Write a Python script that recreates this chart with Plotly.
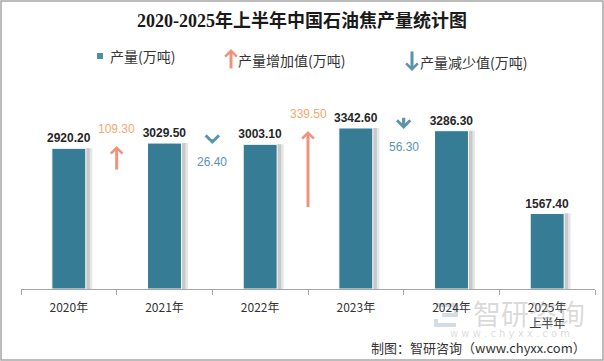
import plotly.graph_objects as go

# ---------------- data ----------------
categories = ["2020年", "2021年", "2022年", "2023年", "2024年", "2025年<br>上半年"]
production = [2920.20, 3029.50, 3003.10, 3342.60, 3286.30, 1567.40]
# change between consecutive categories (index i -> i+1)
increase = [109.30, None, 339.50, None, None]
decrease = [None, 26.40, None, 56.30, None]

title_text = "2020-2025年上半年中国石油焦产量统计图"
legend_labels = ["产量(万吨)", "产量增加值(万吨)", "产量减少值(万吨)"]
source_text = "制图：智研咨询（www.chyxx.com）"

# ---------------- style ----------------
W, H = 604, 361
BAR = "#367C95"
UP = "#F0917A"
UP_TXT = "#F4A76E"
DOWN = "#5B93AD"
TXT = "#262626"
FONT = "Noto Sans CJK SC"
NUM_FONT = "Liberation Sans"
ARROW_PX_PER_UNIT = 0.228
BW = 0.355

x0_px, x1_px = 21, 595
base_px = 289
y_max = 4000
px_per_unit = 0.04817
top_px = base_px - y_max * px_per_unit

fig = go.Figure()

# shadows
xs = list(range(len(categories)))
for off, col in [(6.5, "#e6e6e6"), (4.0, "#c9c9c9")]:
    fig.add_trace(go.Bar(
        x=xs, y=production, width=BW,
        offset=-BW / 2 + off / ((x1_px - x0_px) / len(categories)),
        marker=dict(color=col, line=dict(width=0)),
        hoverinfo="skip", showlegend=False))

fig.add_trace(go.Bar(
    x=xs, y=production, width=BW, offset=-BW / 2,
    marker=dict(color=BAR, line=dict(color="white", width=1)),
    text=[f"{v:.2f}" for v in production],
    textposition="outside", constraintext="none",
    textfont=dict(family=NUM_FONT, size=12, color=TXT, weight="bold"),
    cliponaxis=False, showlegend=False))

annotations = []
# increase arrows
for i, v in enumerate(increase):
    if v is None:
        continue
    top = max(production[i], production[i + 1])
    annotations.append(dict(
        x=i + 0.5, y=top, xref="x", yref="y", yshift=-3,
        ax=0, ay=v * ARROW_PX_PER_UNIT, axref="pixel", ayref="pixel",
        showarrow=True, arrowhead=4, arrowsize=0.75, arrowwidth=3,
        arrowcolor=UP, text=""))
    annotations.append(dict(
        x=i + 0.5, y=top, xref="x", yref="y", yshift=14,
        xanchor="center", yanchor="middle",
        text=f"{v:.2f}", showarrow=False,
        font=dict(family=NUM_FONT, size=12, color=UP_TXT)))
# decrease arrows
for i, v in enumerate(decrease):
    if v is None:
        continue
    top = max(production[i], production[i + 1])
    annotations.append(dict(
        x=i + 0.5, y=top, xref="x", yref="y", yshift=-1,
        ax=0, ay=-v * ARROW_PX_PER_UNIT, axref="pixel", ayref="pixel",
        showarrow=True, arrowhead=4, arrowsize=0.8, arrowwidth=3.2,
        arrowcolor=DOWN, text=""))
    annotations.append(dict(
        x=i + 0.5, y=top, xref="x", yref="y", yshift=-19,
        xanchor="center", yanchor="middle",
        text=f"{v:.2f}", showarrow=False,
        font=dict(family=NUM_FONT, size=12, color=DOWN)))

def px(x):
    return x / W

def py(y):
    return 1 - y / H

def ptext(x, y, text, font, xanchor="center"):
    return dict(x=px(x), y=py(y), xref="paper", yref="paper",
                xanchor=xanchor, yanchor="middle",
                text=text, showarrow=False, font=font)

# watermark (semi-transparent so axis labels show through)
annotations.append(ptext(529, 313, "智研咨询", dict(family=FONT, size=28, color="rgba(150,150,150,0.35)")))
annotations.append(ptext(510, 333, "w w w . c h y x x . c o m",
                         dict(family="DejaVu Sans", size=10, color="rgba(150,150,150,0.35)")))
# title
annotations.append(ptext(302, 20, f"<b>{title_text}</b>",
                         dict(family="Liberation Serif, " + FONT, size=18, color="#1a1a1a")))
# legend
leg_font = dict(family=FONT, size=14, color="#333333")
annotations.append(ptext(108, 56, legend_labels[0], leg_font, "left"))
annotations.append(ptext(236, 60, legend_labels[1], leg_font, "left"))
annotations.append(ptext(418, 62, legend_labels[2], leg_font, "left"))
annotations.append(dict(x=px(231), y=py(49), xref="paper", yref="paper",
                        ax=0, ay=21, showarrow=True, arrowhead=4, arrowsize=0.75,
                        arrowwidth=3, arrowcolor=UP, text=""))
annotations.append(dict(x=px(412), y=py(71), xref="paper", yref="paper",
                        ax=0, ay=-21, showarrow=True, arrowhead=4, arrowsize=0.75,
                        arrowwidth=3, arrowcolor=DOWN, text=""))
# source
annotations.append(ptext(588, 347, source_text, dict(family=FONT, size=13, color="#333333"), "right"))

shapes = [
    # legend square
    dict(type="rect", xref="paper", yref="paper", x0=px(97), x1=px(103), y0=py(59), y1=py(53),
         fillcolor="#4A8FA7", line=dict(width=0)),
    # watermark logo
    dict(type="path", xref="paper", yref="paper", layer="below",
         path=f"M {px(436)},{py(305)} L {px(456)},{py(305)} L {px(456)},{py(315)} "
              f"L {px(442)},{py(315)} M {px(436)},{py(319)} L {px(436)},{py(325)} "
              f"L {px(456)},{py(325)}",
         line=dict(color="#d3dde6", width=4)),
    # frame
    dict(type="rect", xref="paper", yref="paper", x0=px(1), x1=px(603), y0=py(360), y1=py(1),
         line=dict(color="#a6a6a6", width=1.5)),
]

fig.update_layout(
    width=W, height=H, autosize=False,
    margin=dict(l=0, r=0, t=0, b=0),
    paper_bgcolor="white", plot_bgcolor="white",
    barmode="overlay", showlegend=False,
    annotations=annotations, shapes=shapes,
    xaxis=dict(domain=[px(x0_px), px(x1_px)], tickmode="array", tickvals=xs,
               ticktext=categories, range=[-0.5, len(categories) - 0.5],
               showline=True, linecolor="#a6a6a6", linewidth=1,
               ticks="outside", ticklen=8, tickcolor="rgba(0,0,0,0)",
               showgrid=False, zeroline=False,
               tickfont=dict(family=FONT, size=12, color="#333333"), automargin=False,
               minor=dict(tickvals=[i - 0.5 for i in range(len(categories) + 1)],
                          ticks="outside", ticklen=5, tickcolor="#a6a6a6")),
    yaxis=dict(domain=[py(base_px), py(top_px)], range=[0, y_max], visible=False,
               showgrid=False, zeroline=False, automargin=False),
)

fig.write_html("out.html", config={"displayModeBar": False},
               post_script="document.body.style.margin='0';document.body.style.padding='0';")
